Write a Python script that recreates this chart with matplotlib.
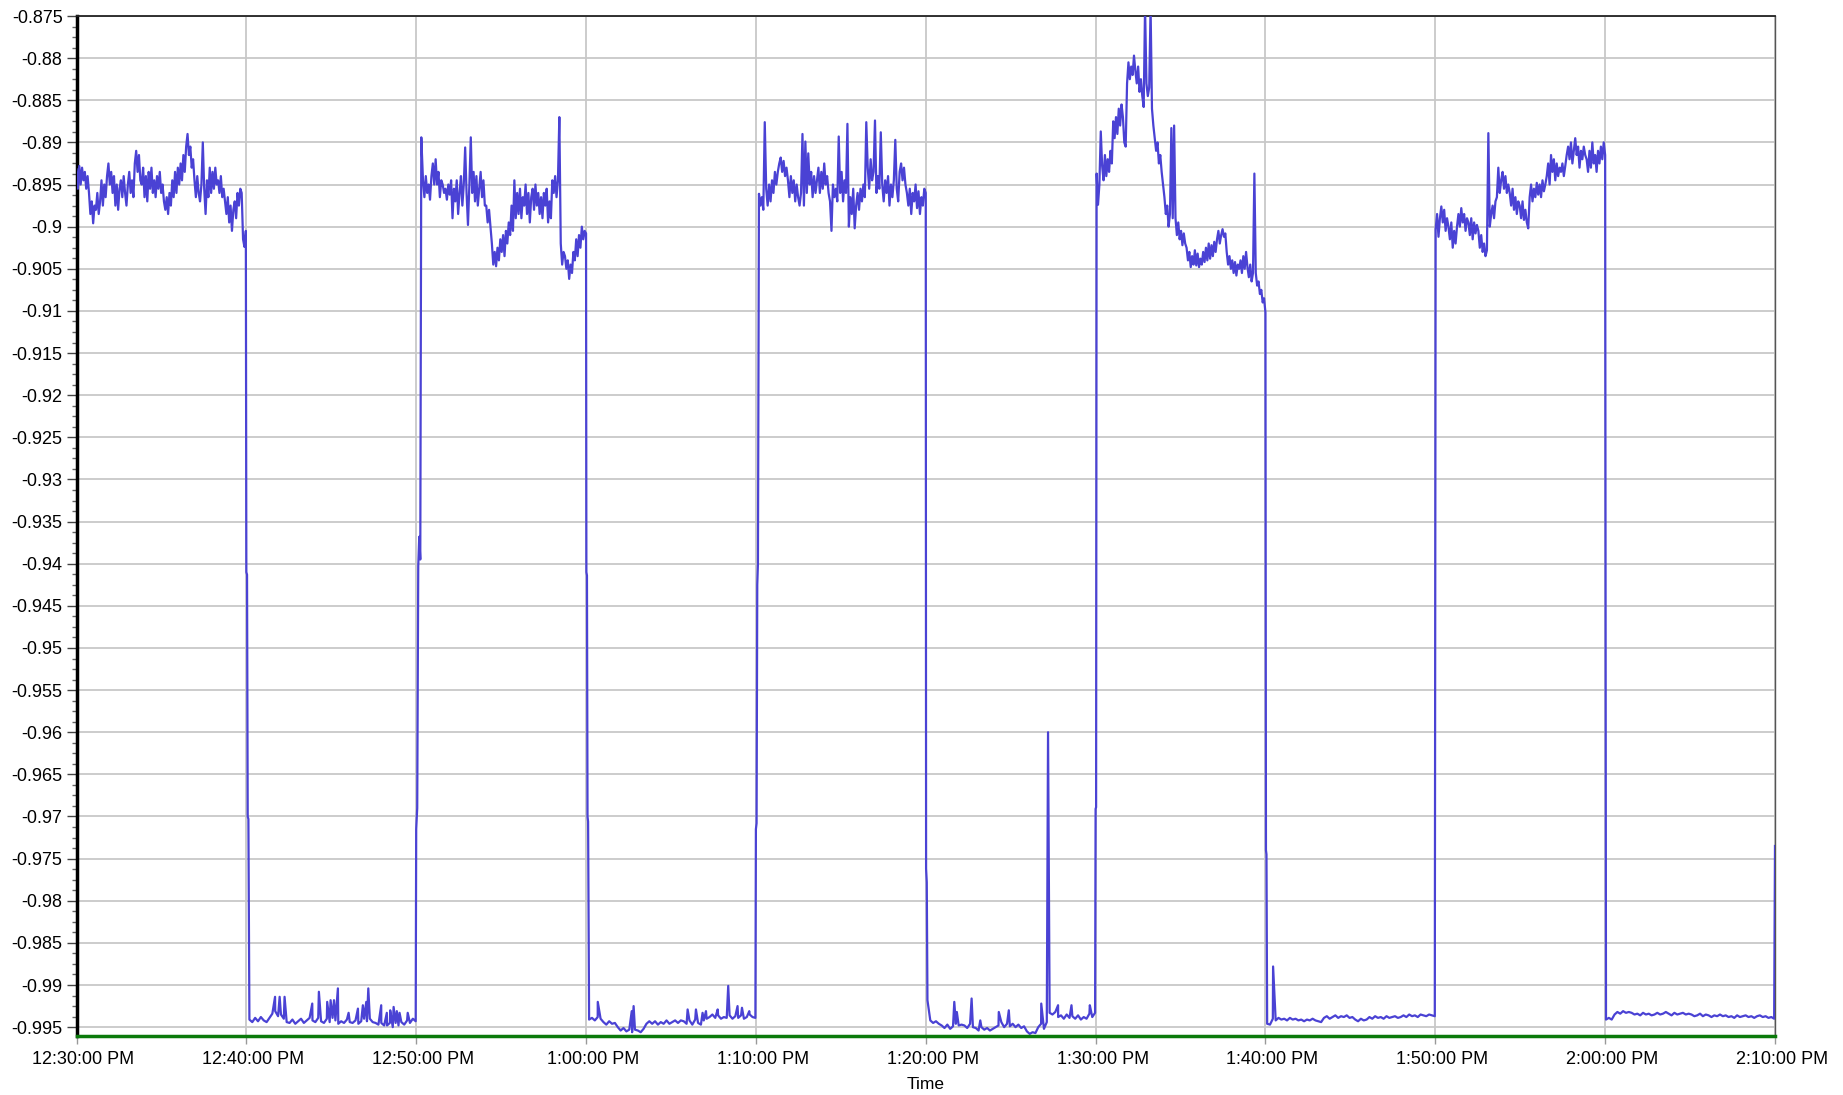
import numpy as np
import matplotlib
matplotlib.use("Agg")
import matplotlib.pyplot as plt
import matplotlib.transforms as mtransforms
from matplotlib.ticker import MultipleLocator, FormatStrFormatter

plt.rcParams['font.family'] = ['Liberation Sans', 'DejaVu Sans']

# time axis in minutes after 12:30:00 PM
tick_minutes = [0, 10, 20, 30, 40, 50, 60, 70, 80, 90, 100]
tick_labels = ["12:30:00 PM", "12:40:00 PM", "12:50:00 PM", "1:00:00 PM", "1:10:00 PM",
               "1:20:00 PM", "1:30:00 PM", "1:40:00 PM", "1:50:00 PM", "2:00:00 PM", "2:10:00 PM"]

# high level stretches
hi1 = [-0.8932, -0.8955, -0.8928, -0.8950, -0.8930, -0.8945, -0.8935, -0.8955, -0.8940,
       -0.8960, -0.8985, -0.8970, -0.8996, -0.8975, -0.8980, -0.8960, -0.8985, -0.8970,
       -0.8945, -0.8975, -0.8950, -0.8965, -0.8940, -0.8925, -0.8950,
       -0.8935, -0.8960, -0.8940, -0.8975, -0.8950, -0.8980, -0.8955,
       -0.8945, -0.8965, -0.8940, -0.8960, -0.8975, -0.8950, -0.8935, -0.8960, -0.8945, -0.8965,
       -0.8925, -0.8910, -0.8935, -0.8915, -0.8945,
       -0.8950, -0.8930, -0.8965, -0.8940, -0.8970, -0.8935, -0.8955, -0.8930, -0.8960, -0.8945,
       -0.8965, -0.8940, -0.8955, -0.8935, -0.8960, -0.8950, -0.8970,
       -0.8980, -0.8965, -0.8985, -0.8960, -0.8975, -0.8945, -0.8965,
       -0.8935, -0.8960, -0.8930, -0.8950, -0.8925, -0.8945, -0.8915, -0.8935, -0.8905, -0.8890,
       -0.8915, -0.8905, -0.8930, -0.8920, -0.8945, -0.8965, -0.8940, -0.8960, -0.8970,
       -0.8950, -0.8900, -0.8955, -0.8985,
       -0.8945, -0.8965, -0.8930, -0.8960, -0.8935, -0.8955, -0.8930, -0.8950, -0.8945, -0.8960,
       -0.8940, -0.8965, -0.8955, -0.8970,
       -0.8985, -0.8965, -0.8995, -0.8975, -0.9005, -0.8980, -0.8970, -0.8990, -0.8960, -0.8975,
       -0.8955, -0.8960, -0.9015, -0.9024, -0.9005]

hi2 = [-0.8945, -0.8965, -0.8940, -0.8960, -0.8950, -0.8968,
       -0.8940, -0.8925, -0.8950, -0.8920, -0.8950, -0.8935, -0.8965, -0.8945,
       -0.8950, -0.8960, -0.8955, -0.8968, -0.8950, -0.8962,
       -0.8945, -0.8990, -0.8955, -0.8970, -0.8945, -0.8985, -0.8960, -0.8940, -0.8975, -0.8950,
       -0.8906, -0.8960, -0.8998, -0.8950, -0.8894,
       -0.8960, -0.8935, -0.8970, -0.8940, -0.8975, -0.8955, -0.8935, -0.8965, -0.8945, -0.8975,
       -0.8975, -0.8995, -0.8980, -0.9000,
       -0.9020, -0.9045, -0.9030, -0.9047, -0.9025, -0.9040,
       -0.9015, -0.9030, -0.9010, -0.9035, -0.9005, -0.9020, -0.8995,
       -0.9010, -0.8975, -0.9005, -0.8945, -0.8990,
       -0.8960, -0.8985, -0.8955, -0.8990, -0.8965, -0.8975, -0.8950, -0.8985, -0.8960, -0.8995,
       -0.8965, -0.8955, -0.8980, -0.8950, -0.8975, -0.8960, -0.8985,
       -0.8965, -0.8990, -0.8960, -0.8975, -0.8955, -0.8995, -0.8970, -0.8990,
       -0.8945, -0.8960, -0.8940, -0.8965, -0.8945,
       -0.8870,
       -0.9020, -0.9045, -0.9030,
       -0.9035, -0.9050, -0.9040, -0.9062, -0.9045, -0.9055,
       -0.9030, -0.9040, -0.9015, -0.9035, -0.9010, -0.9025, -0.9000, -0.9015, -0.9005, -0.9008]

hi3 = [-0.8961, -0.8975, -0.8965, -0.8980,
       -0.8876,
       -0.8955, -0.8975, -0.8950, -0.8970, -0.8945, -0.8960, -0.8935, -0.8950,
       -0.8935, -0.8925, -0.8918, -0.8935, -0.8922, -0.8940, -0.8930,
       -0.8945, -0.8965, -0.8940, -0.8960, -0.8945, -0.8970, -0.8950, -0.8965,
       -0.8975, -0.8960,
       -0.8890,
       -0.8975, -0.8899, -0.8960, -0.8913, -0.8950, -0.8935, -0.8965, -0.8940, -0.8960, -0.8945,
       -0.8930, -0.8960, -0.8935, -0.8955, -0.8925, -0.8950, -0.8940, -0.8960, -0.8970, -0.9005,
       -0.8950, -0.8965, -0.8955, -0.8970,
       -0.8893,
       -0.8960, -0.8935, -0.8970, -0.8945, -0.8960,
       -0.8878,
       -0.9000,
       -0.8965, -0.8985, -0.8955, -0.9002, -0.8975, -0.8960, -0.8980,
       -0.8955, -0.8970, -0.8950, -0.8965,
       -0.8876,
       -0.8930, -0.8955, -0.8920, -0.8945, -0.8935,
       -0.8874,
       -0.8960, -0.8940, -0.8955,
       -0.8888,
       -0.8950, -0.8970, -0.8945, -0.8960, -0.8940, -0.8975, -0.8950, -0.8965, -0.8945, -0.8897,
       -0.8955, -0.8970,
       -0.8935, -0.8925, -0.8945, -0.8930, -0.8950,
       -0.8960, -0.8975, -0.8955, -0.8985, -0.8960, -0.8970, -0.8950, -0.8978, -0.8958, -0.8985,
       -0.8965, -0.8975,
       -0.8955, -0.8960]

hi4 = [-0.8937, -0.8974, -0.8950,
       -0.8887,
       -0.8928, -0.8945, -0.8915, -0.8940, -0.8920, -0.8935, -0.8910, -0.8925,
       -0.8875, -0.8895, -0.8870, -0.8890, -0.8860, -0.8880, -0.8855, -0.8870, -0.8900, -0.8905,
       -0.8830, -0.8805, -0.8825, -0.8810, -0.8820,
       -0.8797,
       -0.8815, -0.8830, -0.8810, -0.8840, -0.8825, -0.8845,
       -0.8858,
       -0.8740,
       -0.8830, -0.8845, -0.8835,
       -0.8740,
       -0.8860, -0.8880,
       -0.8895, -0.8910, -0.8900, -0.8925, -0.8915, -0.8935, -0.8950,
       -0.8965, -0.8985, -0.8975, -0.9000, -0.8985,
       -0.8883,
       -0.8990,
       -0.8880,
       -0.8990, -0.9010, -0.8995, -0.9015, -0.9005, -0.9022, -0.9008, -0.9020,
       -0.9025, -0.9040, -0.9030, -0.9048, -0.9035, -0.9045, -0.9028, -0.9046, -0.9032, -0.9048,
       -0.9038, -0.9045,
       -0.9030, -0.9042, -0.9025, -0.9040, -0.9020, -0.9038, -0.9022, -0.9035, -0.9018, -0.9030,
       -0.9015, -0.9005, -0.9020, -0.9010, -0.9003, -0.9012, -0.9008,
       -0.9030, -0.9045, -0.9035, -0.9050, -0.9040, -0.9055, -0.9042, -0.9058, -0.9045, -0.9050,
       -0.9040, -0.9055, -0.9035, -0.9050, -0.9030, -0.9048, -0.9060, -0.9045, -0.9065, -0.9055,
       -0.8937,
       -0.9055, -0.9070, -0.9065, -0.9080, -0.9075, -0.9090, -0.9085, -0.9102]

hi5 = [-0.9003, -0.8985, -0.9012, -0.8990,
       -0.8976, -0.8995, -0.8980, -0.9005, -0.8990,
       -0.9000, -0.9015, -0.8995, -0.9025, -0.9005, -0.9020, -0.9000,
       -0.8985, -0.9000, -0.8978, -0.8995, -0.8985, -0.9005, -0.8990,
       -0.8995, -0.9010, -0.8990, -0.9015, -0.8995, -0.9008, -0.8998,
       -0.9005, -0.9025, -0.9010, -0.9030, -0.9020, -0.9035, -0.9028,
       -0.8889,
       -0.9000, -0.8985, -0.8975, -0.8990, -0.8970,
       -0.8965, -0.8930, -0.8960,
       -0.8945, -0.8935, -0.8955, -0.8940, -0.8960, -0.8950,
       -0.8960, -0.8975, -0.8955, -0.8980, -0.8965, -0.8985, -0.8970,
       -0.8975, -0.8990, -0.8970, -0.8992, -0.8980, -0.8995, -0.9002,
       -0.8965, -0.8950, -0.8970, -0.8955, -0.8965, -0.8948, -0.8962, -0.8950, -0.8965, -0.8945,
       -0.8958, -0.8950,
       -0.8940, -0.8925, -0.8950, -0.8915, -0.8935, -0.8920, -0.8945, -0.8925, -0.8940, -0.8930,
       -0.8935, -0.8925, -0.8940, -0.8928,
       -0.8915, -0.8905, -0.8920, -0.8900, -0.8925, -0.8910, -0.8895, -0.8915, -0.8905, -0.8930,
       -0.8910, -0.8920, -0.8905, -0.8915,
       -0.8920, -0.8935, -0.8910, -0.8930, -0.8900, -0.8925, -0.8915, -0.8935, -0.8910, -0.8925,
       -0.8905, -0.8920, -0.8900, -0.8915]

# low level stretches
lo1 = [-0.9941, -0.9944, -0.9939, -0.9943, -0.9938, -0.9942, -0.9944, -0.9939,
       -0.9934, -0.9931, -0.9937, -0.9935,
       -0.9940, -0.9944, -0.9945, -0.9941, -0.9946, -0.9943, -0.9940, -0.9945, -0.9942, -0.9939,
       -0.9942, -0.9944, -0.9939, -0.9943, -0.9945, -0.9940, -0.9944, -0.9939, -0.9942, -0.9946,
       -0.9943, -0.9945, -0.9941, -0.9944,
       -0.9945, -0.9942, -0.9946, -0.9943, -0.9940, -0.9943, -0.9940, -0.9944, -0.9945, -0.9947,
       -0.9945, -0.9948,
       -0.9948, -0.9945, -0.9950, -0.9945, -0.9948, -0.9944, -0.9947, -0.9942, -0.9945, -0.9940,
       -0.9943]

lo2 = [-0.9941, -0.9939, -0.9942, -0.9938, -0.9940,
       -0.9944, -0.9947, -0.9943, -0.9946, -0.9945,
       -0.9950, -0.9954, -0.9951, -0.9955,
       -0.9953, -0.9956, -0.9953, -0.9954, -0.9956, -0.9952,
       -0.9946, -0.9943, -0.9946, -0.9943, -0.9947, -0.9944, -0.9946, -0.9942, -0.9946, -0.9944,
       -0.9942, -0.9945, -0.9942,
       -0.9943, -0.9946, -0.9942, -0.9947, -0.9941, -0.9945, -0.9947, -0.9942, -0.9940,
       -0.9938, -0.9935, -0.9939, -0.9936, -0.9940, -0.9938,
       -0.9939, -0.9936, -0.9940, -0.9937, -0.9939, -0.9936, -0.9940, -0.9938, -0.9935, -0.9938,
       -0.9939]

lo3 = [-0.9918, -0.9942, -0.9945, -0.9943, -0.9946,
       -0.9948, -0.9951, -0.9947, -0.9952, -0.9949,
       -0.9946, -0.9948, -0.9947,
       -0.9948, -0.9951, -0.9946, -0.9950,
       -0.9951, -0.9954, -0.9950, -0.9953, -0.9951, -0.9954, -0.9952, -0.9950,
       -0.9948, -0.9944, -0.9950, -0.9946, -0.9949,
       -0.9946, -0.9950, -0.9947, -0.9951, -0.9949,
       -0.9955, -0.9958, -0.9956, -0.9957,
       -0.9950, -0.9946, -0.9952, -0.9944,
       -0.9933, -0.9935, -0.9932, -0.9938,
       -0.9936, -0.9940, -0.9935, -0.9939,
       -0.9937, -0.9940, -0.9936, -0.9941, -0.9938, -0.9940,
       -0.9934, -0.9938, -0.9933]

lo4 = [-0.9946, -0.9947,
       -0.9940, -0.9942, -0.9939, -0.9941, -0.9940, -0.9942, -0.9939, -0.9941, -0.9940, -0.9942,
       -0.9941, -0.9943, -0.9941, -0.9942, -0.9940, -0.9942,
       -0.9943, -0.9944,
       -0.9939, -0.9937, -0.9940, -0.9938, -0.9936, -0.9939, -0.9937, -0.9938, -0.9936, -0.9939,
       -0.9938,
       -0.9941, -0.9943, -0.9940, -0.9942, -0.9941,
       -0.9938, -0.9940, -0.9937, -0.9939, -0.9938, -0.9940, -0.9937, -0.9939, -0.9938, -0.9937,
       -0.9939, -0.9938,
       -0.9936, -0.9938, -0.9935, -0.9937, -0.9936, -0.9938, -0.9935, -0.9936, -0.9937, -0.9935,
       -0.9936, -0.9937]

lo5 = [-0.9941, -0.9939, -0.9941,
       -0.9935, -0.9932, -0.9934, -0.9931, -0.9933, -0.9932,
       -0.9933, -0.9935, -0.9934, -0.9936, -0.9933, -0.9935, -0.9934, -0.9936, -0.9935, -0.9933,
       -0.9935, -0.9934, -0.9932, -0.9934, -0.9936, -0.9933, -0.9935, -0.9934, -0.9933, -0.9935,
       -0.9934,
       -0.9935, -0.9937, -0.9936, -0.9934, -0.9937, -0.9935, -0.9936, -0.9938, -0.9936, -0.9937,
       -0.9935, -0.9937,
       -0.9936, -0.9938, -0.9937, -0.9939, -0.9936, -0.9938, -0.9937, -0.9936, -0.9938, -0.9937,
       -0.9939, -0.9937, -0.9936, -0.9938, -0.9937, -0.9939, -0.9938, -0.9940]

# steps seen on the switching edges
drop1 = [-0.9410, -0.9413, -0.9700, -0.9703]
rise1 = [-0.9715, -0.9690, -0.9403, -0.9368, -0.9395, -0.8894]
drop2 = [-0.9410, -0.9414, -0.9700, -0.9706]
rise2 = [-0.9715, -0.9708, -0.9425, -0.9400]
drop3 = [-0.9762, -0.9778]
rise3 = [-0.9691, -0.9689]
drop4 = [-0.9740, -0.9745]
last = [-0.9735]

# short spikes on the low level (minute, value)
spike_min = [11.69, 11.96, 12.25, 13.88, 14.27, 14.76, 14.96, 15.16, 15.39, 16.02, 16.57,
             16.86, 17.06, 17.18, 17.94, 18.27, 18.47, 18.67, 18.86, 19.02, 19.50,
             30.69, 32.69, 32.80, 35.98, 36.47, 36.86, 37.06, 37.75, 38.37, 38.92, 39.18, 39.61,
             51.68, 51.83, 52.70, 53.21, 54.30, 54.89, 56.80, 57.20, 57.79, 58.58, 59.66,
             70.45]
spike_val = [-0.9914, -0.9914, -0.9914, -0.9922, -0.9908, -0.9920, -0.9918, -0.9918, -0.9904,
             -0.9933, -0.9928, -0.9924, -0.9920, -0.9904, -0.9924, -0.9933, -0.9930, -0.9926,
             -0.9931, -0.9933, -0.9933,
             -0.9920, -0.9931, -0.9925, -0.9929, -0.9929, -0.9933, -0.9931, -0.9929, -0.9901,
             -0.9925, -0.9927, -0.9931,
             -0.9920, -0.9932, -0.9916, -0.9942, -0.9932, -0.9930, -0.9922, -0.9600, -0.9924,
             -0.9924, -0.9924,
             -0.9878]

green_min = [0, 100]
green_val = [-0.996, -0.996]

# (start minute, end minute, values)
pieces = [(0.0, 9.97, hi1), (10.0, 10.12, drop1), (10.18, 19.97, lo1),
          (20.0, 20.3, rise1), (20.4, 30.0, hi2), (30.02, 30.12, drop2),
          (30.18, 39.97, lo2), (40.0, 40.12, rise2), (40.18, 50.0, hi3),
          (50.02, 50.06, drop3), (50.1, 59.97, lo3), (60.0, 60.03, rise3),
          (60.06, 70.0, hi4), (70.03, 70.06, drop4), (70.1, 79.97, lo4),
          (80.02, 90.0, hi5), (90.05, 99.95, lo5), (100.0, 100.0, last)]

t = np.concatenate([np.linspace(a, b, len(v)) for a, b, v in pieces] + [spike_min])
y = np.concatenate([np.array(v) for a, b, v in pieces] + [spike_val])
order = np.argsort(t, kind="stable")
t, y = t[order], y[order]

fig = plt.figure(figsize=(18.43, 10.95), dpi=100)
ax = fig.add_axes([76.5/1843, 1-1036/1095, (1775-76.5)/1843, (1036-16)/1095])

ax.plot(t, y, color="#4a42d4", lw=1.6, zorder=3)
ax.plot(green_min, green_val, color="#0b7a0b", lw=2.5, zorder=4, clip_on=False)

ax.set_xlim(0, 100)
ax.set_ylim(-0.99605, -0.875)
ax.set_xticks(tick_minutes)
ax.set_xticklabels(tick_labels)
ax.yaxis.set_major_locator(MultipleLocator(0.005))
ax.yaxis.set_minor_locator(MultipleLocator(0.00125))
ax.yaxis.set_major_formatter(FormatStrFormatter('%g'))

ax.grid(True, which="major", color="#c8c8c8", lw=1.3)
ax.set_axisbelow(True)

ax.tick_params(axis="x", length=6, width=1, color="#999999", pad=5, labelsize=13)
ax.tick_params(axis="y", which="major", length=7, width=1, color="#444444", pad=3, labelsize=13)
ax.tick_params(axis="y", which="minor", length=3.5, width=1, color="#666666")

# the x labels sit a little right of their ticks in the original
shift = mtransforms.ScaledTranslation(0.07, 0, fig.dpi_scale_trans)
for lab in ax.get_xticklabels():
    lab.set_transform(lab.get_transform() + shift)

ax.spines["left"].set_linewidth(2.5)
ax.spines["left"].set_color("black")
ax.spines["top"].set_linewidth(1.3)
ax.spines["top"].set_color("#222222")
ax.spines["right"].set_linewidth(1)
ax.spines["right"].set_color("#555555")
ax.spines["bottom"].set_visible(False)

ax.set_xlabel("Time", fontsize=12.5, labelpad=6.5)

fig.savefig("out.png", dpi=100)
